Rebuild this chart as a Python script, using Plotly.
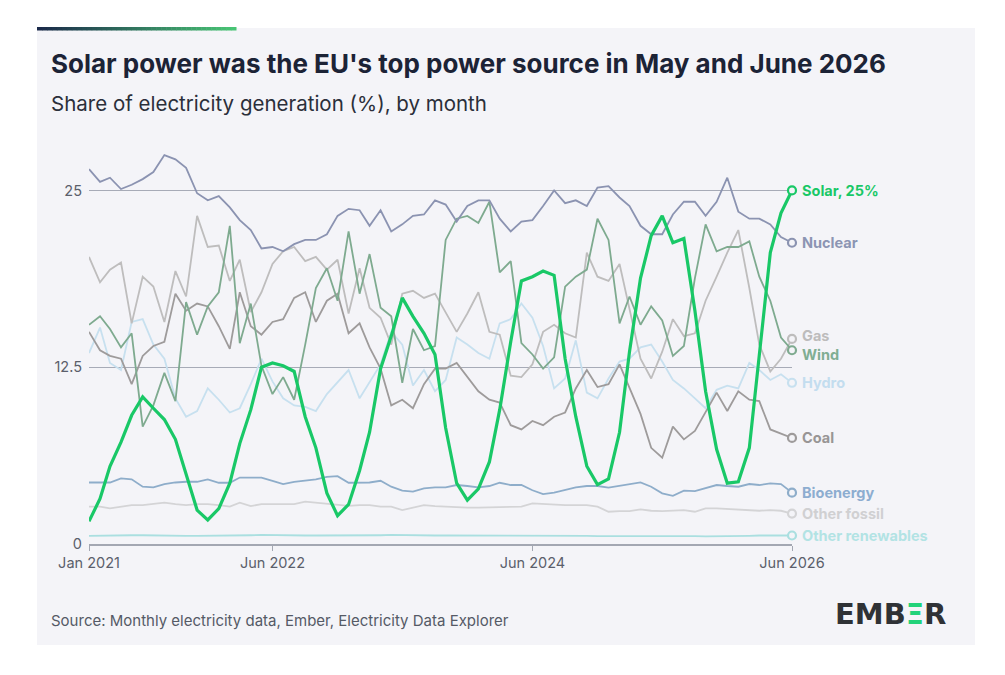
import pandas as pd
import plotly.graph_objects as go

# ---------------- data ----------------
months = pd.date_range("2021-01-01", periods=66, freq="MS")

solar = [1.6, 3.2, 5.5, 7.2, 9.1, 10.4, 9.6, 8.8, 7.4, 4.9, 2.4, 1.7,
         2.5, 4.3, 7.1, 9.5, 12.5, 12.8, 12.6, 12.2, 9.0, 6.8, 3.6, 2.0,
         2.8, 5.2, 7.9, 12.4, 14.7, 17.4, 16.1, 14.9, 13.4, 8.2, 4.3, 3.1,
         3.9, 5.8, 9.5, 14.3, 18.6, 18.9, 19.3, 19.0, 13.1, 9.0, 5.5, 4.2,
         4.6, 7.9, 13.6, 18.8, 21.8, 23.2, 21.3, 21.6, 16.5, 10.8, 6.7, 4.3,
         4.4, 6.8, 13.6, 20.6, 23.4, 25.0]
nuclear = [26.5, 25.6, 25.9, 25.1, 25.4, 25.8, 26.3, 27.5, 27.2, 26.6, 24.8, 24.3,
           24.6, 23.8, 22.9, 22.2, 20.9, 21.0, 20.7, 21.2, 21.5, 21.5, 21.9, 23.2,
           23.7, 23.6, 22.5, 23.6, 22.1, 22.6, 23.2, 23.3, 24.3, 24.0, 22.8, 23.9,
           24.3, 24.3, 23.0, 22.1, 22.8, 22.9, 23.9, 25.0, 24.1, 24.3, 23.9, 25.2,
           25.3, 24.5, 23.9, 22.5, 21.9, 21.9, 23.3, 24.2, 24.2, 23.2, 24.2, 25.9,
           23.5, 23.0, 23.0, 22.6, 21.7, 21.3]
gas = [20.3, 18.5, 19.4, 19.9, 15.6, 18.9, 18.2, 15.7, 19.3, 17.5, 23.2, 21.0,
       21.1, 18.6, 20.1, 16.4, 17.8, 19.8, 20.7, 21.0, 20.0, 20.3, 19.4, 20.1,
       16.3, 19.5, 16.7, 16.0, 14.1, 17.7, 17.9, 17.4, 17.7, 16.4, 15.0, 16.3,
       17.8, 15.0, 14.8, 11.9, 11.8, 12.7, 15.0, 15.5, 14.9, 14.6, 20.6, 18.9,
       18.6, 19.8, 16.5, 13.1, 11.7, 13.6, 15.9, 14.7, 14.9, 17.2, 18.9, 20.6,
       22.2, 18.1, 14.1, 12.2, 13.1, 14.5]
wind = [15.5, 16.1, 15.2, 13.9, 14.9, 8.3, 9.8, 12.1, 10.1, 17.1, 14.8, 16.8,
        17.8, 22.5, 14.2, 17.0, 12.6, 10.6, 11.8, 10.2, 14.1, 18.1, 19.5, 17.2,
        22.1, 17.7, 20.5, 16.7, 16.1, 11.4, 15.2, 13.7, 14.0, 21.5, 23.0, 23.2,
        22.7, 24.2, 19.2, 20.0, 14.2, 13.4, 12.4, 13.2, 18.2, 18.9, 19.4, 23.0,
        21.5, 15.6, 17.5, 15.5, 16.8, 15.8, 13.3, 14.0, 18.8, 22.6, 20.7, 21.0,
        21.0, 21.4, 18.9, 17.2, 14.6, 13.7]
hydro = [13.5, 15.3, 12.8, 12.3, 15.7, 15.9, 14.1, 13.1, 10.3, 9.0, 9.4, 11.0,
         10.2, 9.3, 9.6, 11.3, 13.1, 11.5, 10.3, 9.8, 9.7, 9.4, 10.6, 11.4,
         12.3, 10.3, 11.4, 12.7, 15.0, 14.1, 11.2, 12.3, 10.8, 11.6, 14.6, 14.1,
         13.5, 13.1, 15.6, 15.9, 17.0, 16.0, 14.0, 11.0, 11.7, 14.4, 10.7, 10.3,
         11.7, 12.9, 13.1, 13.9, 14.1, 12.9, 11.6, 11.0, 10.3, 9.6, 10.9, 11.2,
         11.0, 12.8, 12.3, 11.6, 12.0, 11.4]
coal = [15.0, 13.7, 13.3, 13.1, 11.3, 13.3, 14.0, 14.3, 17.7, 16.5, 17.0, 16.8,
        15.4, 13.8, 17.8, 15.4, 14.8, 15.7, 15.9, 17.4, 17.8, 15.7, 17.2, 17.7,
        14.9, 15.6, 13.9, 12.4, 9.8, 10.2, 9.6, 11.3, 12.4, 12.4, 12.8, 11.8,
        10.8, 10.2, 10.0, 8.4, 8.1, 8.7, 8.4, 9.0, 9.3, 11.0, 12.3, 11.1,
        11.3, 12.7, 11.0, 9.2, 6.8, 6.1, 8.3, 7.4, 8.0, 9.3, 10.7, 9.4,
        10.8, 10.2, 10.1, 8.1, 7.8, 7.5]
bioenergy = [4.35, 4.35, 4.35, 4.64, 4.57, 4.05, 4.0, 4.24, 4.35, 4.4, 4.4, 4.57,
             4.33, 4.33, 4.7, 4.7, 4.7, 4.47, 4.24, 4.4, 4.5, 4.57, 4.75, 4.8,
             4.33, 4.35, 4.35, 4.47, 4.05, 3.77, 3.7, 3.93, 4.0, 4.0, 4.17, 4.1,
             4.0, 4.1, 4.33, 4.17, 4.17, 3.8, 3.53, 3.63, 3.8, 4.0, 4.1, 4.1,
             3.98, 4.1, 4.24, 4.35, 4.05, 3.58, 3.41, 3.77, 3.74, 3.93, 4.17, 4.1,
             4.05, 4.24, 4.17, 4.28, 4.24, 3.63]
other_fossil = [2.64, 2.64, 2.52, 2.64, 2.75, 2.75, 2.82, 2.92, 2.82, 2.75, 2.82, 2.82,
                2.75, 2.64, 2.92, 2.68, 2.82, 2.82, 2.82, 2.82, 2.99, 2.92, 2.87, 2.82,
                2.7, 2.75, 2.75, 2.64, 2.64, 2.4, 2.59, 2.75, 2.68, 2.64, 2.59, 2.57,
                2.57, 2.59, 2.59, 2.59, 2.64, 2.87, 2.82, 2.8, 2.75, 2.75, 2.75, 2.64,
                2.28, 2.33, 2.33, 2.45, 2.35, 2.33, 2.35, 2.4, 2.28, 2.52, 2.52, 2.47,
                2.45, 2.4, 2.35, 2.4, 2.35, 2.15]
other_renewables = [0.58, 0.6, 0.6, 0.62, 0.62, 0.62, 0.6, 0.6, 0.6, 0.58, 0.58, 0.58,
                    0.6, 0.6, 0.62, 0.62, 0.64, 0.62, 0.62, 0.6, 0.6, 0.6, 0.6, 0.6,
                    0.58, 0.6, 0.62, 0.62, 0.64, 0.62, 0.62, 0.6, 0.6, 0.6, 0.6, 0.58,
                    0.58, 0.6, 0.6, 0.62, 0.62, 0.62, 0.6, 0.6, 0.58, 0.58, 0.58, 0.56,
                    0.56, 0.56, 0.58, 0.6, 0.58, 0.58, 0.56, 0.56, 0.56, 0.54, 0.54, 0.56,
                    0.56, 0.58, 0.6, 0.6, 0.6, 0.6]

tick_dates = ["2021-01-01", "2022-06-01", "2024-06-01", "2026-06-01"]
tick_labels = ["Jan 2021", "Jun 2022", "Jun 2024", "Jun 2026"]
y_ticks = [0, 12.5, 25]
y_tick_labels = ["0", "12.5", "25"]

# name, values, line colour, label colour, width, label text, label y-shift
series = [
    ("Other renewables", other_renewables, "#aadfe0", "#b2e3e4", 1.8, "Other renewables", 0),
    ("Other fossil", other_fossil, "#d4d4d6", "#d0d0d2", 1.8, "Other fossil", 0),
    ("Bioenergy", bioenergy, "#8eadca", "#8dadd0", 1.8, "Bioenergy", 0),
    ("Hydro", hydro, "#c7e0ef", "#c3ddef", 1.8, "Hydro", 0),
    ("Coal", coal, "#9e9b9b", "#989595", 1.8, "Coal", 0),
    ("Gas", gas, "#bebdbd", "#bdbcbc", 1.8, "Gas", 3),
    ("Wind", wind, "#7eaa8f", "#80ae93", 1.8, "Wind", -4),
    ("Nuclear", nuclear, "#8b93b1", "#8c95b3", 1.8, "Nuclear", 0),
    ("Solar", solar, "#19c867", "#19c867", 3.2, "Solar, 25%", 0),
]

PANEL = "#f4f4f8"

# plot-area pixel geometry
W, H = 1005, 675
L, R, T, B = 89, 792, 148, 544


def fx(px):
    return (px - L) / (R - L)


def fy(py):
    return (B - py) / (B - T)


fig = go.Figure()
for name, vals, col, lcol, w, lab, ys in series:
    assert len(vals) == len(months)
    fig.add_trace(go.Scatter(
        x=months, y=vals, mode="lines", name=name,
        line=dict(color=col, width=w), hoverinfo="skip", showlegend=False,
    ))
for name, vals, col, lcol, w, lab, ys in series:
    fig.add_trace(go.Scatter(
        x=[months[-1]], y=[vals[-1]], mode="markers", showlegend=False,
        marker=dict(size=8, color=PANEL, line=dict(color=col, width=2.2)),
        hoverinfo="skip", cliponaxis=False,
    ))

annotations = []
for name, vals, col, lcol, w, lab, ys in series:
    annotations.append(dict(
        x=months[-1], y=vals[-1], xref="x", yref="y", text=f"<b>{lab}</b>",
        showarrow=False, xanchor="left", yanchor="middle", xshift=8, yshift=ys,
        font=dict(family="Inter", size=14.5, color=lcol),
    ))

annotations += [
    dict(xref="paper", yref="paper", x=fx(49), y=fy(64), xanchor="left", yanchor="middle",
         text="<b>Solar power was the EU's top power source in May and June 2026</b>",
         showarrow=False, font=dict(family="Inter", size=26, color="#1c2336")),
    dict(xref="paper", yref="paper", x=fx(49), y=fy(103), xanchor="left", yanchor="middle",
         text="Share of electricity generation (%), by month",
         showarrow=False, font=dict(family="Inter", size=20.5, color="#2b2f3a")),
    dict(xref="paper", yref="paper", x=fx(49), y=fy(620), xanchor="left", yanchor="middle",
         text="Source: Monthly electricity data, Ember, Electricity Data Explorer",
         showarrow=False, font=dict(family="Inter", size=15, color="#555a66")),
    dict(xref="paper", yref="paper", x=fx(948), y=fy(614), xanchor="right", yanchor="middle",
         text="<b>EMB<span style='color:#22d37a'>Ξ</span>R</b>",
         showarrow=False, font=dict(family="DejaVu Sans", size=29, color="#2f3236")),
]

shapes = [
    dict(type="rect", xref="paper", yref="paper", x0=fx(37), x1=fx(975), y0=fy(645), y1=fy(28),
         fillcolor=PANEL, line=dict(width=0), layer="below"),
]
# gradient strip at top-left of panel
c0, c1 = (27, 42, 74), (72, 196, 116)
n = 40
for k in range(n):
    t = k / (n - 1)
    c = tuple(int(round(a + (b - a) * t)) for a, b in zip(c0, c1))
    shapes.append(dict(type="rect", xref="paper", yref="paper",
                       x0=fx(37 + 199 * k / n), x1=fx(37 + 199 * (k + 1) / n + 0.5),
                       y0=fy(30.5), y1=fy(27), fillcolor="rgb(%d,%d,%d)" % c,
                       line=dict(width=0), layer="below"))

fig.update_layout(
    width=W, height=H,
    margin=dict(l=L, r=W - R, t=T, b=H - B, pad=0),
    paper_bgcolor="white", plot_bgcolor="rgba(0,0,0,0)",
    annotations=annotations, shapes=shapes,
    font=dict(family="Inter", color="#5b5f6b"),
)
fig.update_xaxes(
    range=[months[0], months[-1]], tickvals=pd.to_datetime(tick_dates), ticktext=tick_labels,
    showgrid=False, showline=True, linecolor="#a3a7b2", linewidth=1.5,
    ticks="outside", ticklen=5, tickcolor="#a3a7b2", tickwidth=1,
    tickfont=dict(family="Inter", size=14.5, color="#5b5f6b"), zeroline=False,
)
fig.update_yaxes(
    range=[0, 28], tickvals=y_ticks, ticktext=y_tick_labels,
    showgrid=True, gridcolor="#a7abb7", gridwidth=1, zeroline=False, showline=False,
    ticks="", tickfont=dict(family="Inter", size=14.5, color="#5b5f6b"),
    ticklabelstandoff=6,
)

fig.write_html("out.html")
